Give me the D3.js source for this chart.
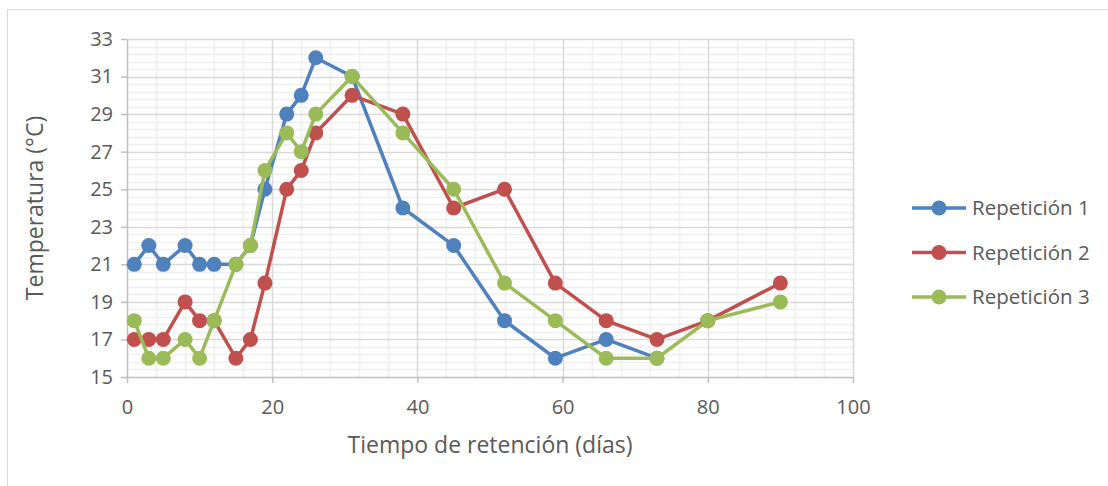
<!DOCTYPE html>
<html>
<head>
<meta charset="utf-8">
<script src="https://cdn.jsdelivr.net/npm/d3@7"></script>
<style>
  body { margin: 0; background: #fff; }
  svg { display: block; font-family: "Open Sans", Lato, sans-serif; }
</style>
</head>
<body>
<svg id="chart"></svg>
<script>
// days and temperatures
var diasR1 = [1, 3, 5, 8, 10, 12, 15, 17, 19, 22, 24, 26, 31, 38, 45, 52, 59, 66, 73];
var tempR1 = [21, 22, 21, 22, 21, 21, 21, 22, 25, 29, 30, 32, 31, 24, 22, 18, 16, 17, 16];
var diasR2 = [1, 3, 5, 8, 10, 12, 15, 17, 19, 22, 24, 26, 31, 38, 45, 52, 59, 66, 73, 80, 90];
var tempR2 = [17, 17, 17, 19, 18, 18, 16, 17, 20, 25, 26, 28, 30, 29, 24, 25, 20, 18, 17, 18, 20];
var diasR3 = [1, 3, 5, 8, 10, 12, 15, 17, 19, 22, 24, 26, 31, 38, 45, 52, 59, 66, 73, 80, 90];
var tempR3 = [18, 16, 16, 17, 16, 18, 21, 22, 26, 28, 27, 29, 31, 28, 25, 20, 18, 16, 16, 18, 19];
var seriesNames = ["Repetición 1", "Repetición 2", "Repetición 3"];
var seriesColors = ["#4F81BD", "#C0504D", "#9BBB59"];
var xTicks = [0, 20, 40, 60, 80, 100];
var yTicks = [15, 17, 19, 21, 23, 25, 27, 29, 31, 33];

var series = [
  { name: seriesNames[0], color: seriesColors[0], pts: d3.zip(diasR1, tempR1) },
  { name: seriesNames[1], color: seriesColors[1], pts: d3.zip(diasR2, tempR2) },
  { name: seriesNames[2], color: seriesColors[2], pts: d3.zip(diasR3, tempR3) }
];

var width = 1108, height = 486;
var plotL = 127, plotR = 853, plotT = 39, plotB = 377;

var svg = d3.select("#chart")
    .attr("width", width)
    .attr("height", height);

// chart frame
svg.append("rect")
    .attr("x", 7.5).attr("y", 9.5)
    .attr("width", 1110).attr("height", 490)
    .attr("fill", "none")
    .attr("stroke", "#D9D9D9");

var x = d3.scaleLinear().domain([0, 100]).range([plotL, plotR]);
var y = d3.scaleLinear().domain([15, 33]).range([plotB, plotT]);

// minor grid
var minorX = d3.range(4, 100, 4).filter(function(d) { return d % 20 !== 0; });
var minorY = d3.range(1, 45).map(function(i) { return 15 + i * 0.4; })
    .filter(function(d, i) { return (i + 1) % 5 !== 0; });

svg.append("g").selectAll("line").data(minorX).enter().append("line")
    .attr("x1", function(d) { return Math.round(x(d)) + 0.5; })
    .attr("x2", function(d) { return Math.round(x(d)) + 0.5; })
    .attr("y1", plotT).attr("y2", plotB)
    .attr("stroke", "#EFEFEF").attr("stroke-width", 1.5);

svg.append("g").selectAll("line").data(minorY).enter().append("line")
    .attr("y1", function(d) { return Math.round(y(d)) + 0.5; })
    .attr("y2", function(d) { return Math.round(y(d)) + 0.5; })
    .attr("x1", plotL).attr("x2", plotR)
    .attr("stroke", "#EFEFEF").attr("stroke-width", 1.5);

// major grid
svg.append("g").selectAll("line").data(xTicks.slice(1)).enter().append("line")
    .attr("x1", function(d) { return Math.round(x(d)) + 0.5; })
    .attr("x2", function(d) { return Math.round(x(d)) + 0.5; })
    .attr("y1", plotT).attr("y2", plotB)
    .attr("stroke", "#D9D9D9").attr("stroke-width", 1.5);

svg.append("g").selectAll("line").data(yTicks.slice(1)).enter().append("line")
    .attr("y1", function(d) { return Math.round(y(d)) + 0.5; })
    .attr("y2", function(d) { return Math.round(y(d)) + 0.5; })
    .attr("x1", plotL).attr("x2", plotR)
    .attr("stroke", "#D9D9D9").attr("stroke-width", 1.5);

// axes
var xAxis = svg.append("g")
    .attr("transform", "translate(0," + plotB + ")")
    .call(d3.axisBottom(x).tickValues(xTicks).tickSize(6).tickPadding(17).tickSizeOuter(0));
var yAxis = svg.append("g")
    .attr("transform", "translate(" + plotL + ",0)")
    .call(d3.axisLeft(y).tickValues(yTicks).tickSize(6).tickPadding(8).tickSizeOuter(0));

[xAxis, yAxis].forEach(function(a) {
  a.select(".domain").attr("stroke", "#BFBFBF").attr("stroke-width", 1.5);
  a.selectAll(".tick line").attr("stroke", "#BFBFBF").attr("stroke-width", 1.5);
  a.selectAll(".tick text")
      .attr("fill", "#595959")
      .style("font-size", "20px")
      .style("font-family", "'Open Sans', Lato, sans-serif");
});

// axis titles
svg.append("text")
    .attr("x", 490)
    .attr("y", 453)
    .attr("text-anchor", "middle")
    .attr("fill", "#595959")
    .style("font-size", "23px")
    .text("Tiempo de retención (días)");

svg.append("text")
    .attr("transform", "translate(43," + (plotT + plotB) / 2 + ") rotate(-90)")
    .attr("text-anchor", "middle")
    .attr("fill", "#595959")
    .style("font-size", "23px")
    .text("Temperatura (°C)");

// lines and markers
var line = d3.line()
    .x(function(d) { return x(d[0]); })
    .y(function(d) { return y(d[1]); });

var g = svg.selectAll(".serie")
    .data(series)
    .enter()
    .append("g");

g.append("path")
    .attr("d", function(d) { return line(d.pts); })
    .attr("fill", "none")
    .attr("stroke", function(d) { return d.color; })
    .attr("stroke-width", 3.5)
    .attr("stroke-linejoin", "round");

g.selectAll("circle")
    .data(function(d) { return d.pts.map(function(p) { return { p: p, c: d.color }; }); })
    .enter()
    .append("circle")
    .attr("cx", function(d) { return x(d.p[0]); })
    .attr("cy", function(d) { return y(d.p[1]); })
    .attr("r", 7.5)
    .attr("fill", function(d) { return d.c; });

// legend
var legend = svg.selectAll(".leg")
    .data(series)
    .enter()
    .append("g")
    .attr("transform", function(d, i) { return "translate(912," + (208 + i * 44.5) + ")"; });

legend.append("line")
    .attr("x1", 0).attr("x2", 54)
    .attr("stroke", function(d) { return d.color; })
    .attr("stroke-width", 3.5);
legend.append("circle")
    .attr("cx", 27).attr("r", 7.5)
    .attr("fill", function(d) { return d.color; });
legend.append("text")
    .attr("x", 60)
    .attr("dy", "0.35em")
    .attr("fill", "#595959")
    .style("font-size", "20.5px")
    .text(function(d) { return d.name; });
</script>
</body>
</html>
